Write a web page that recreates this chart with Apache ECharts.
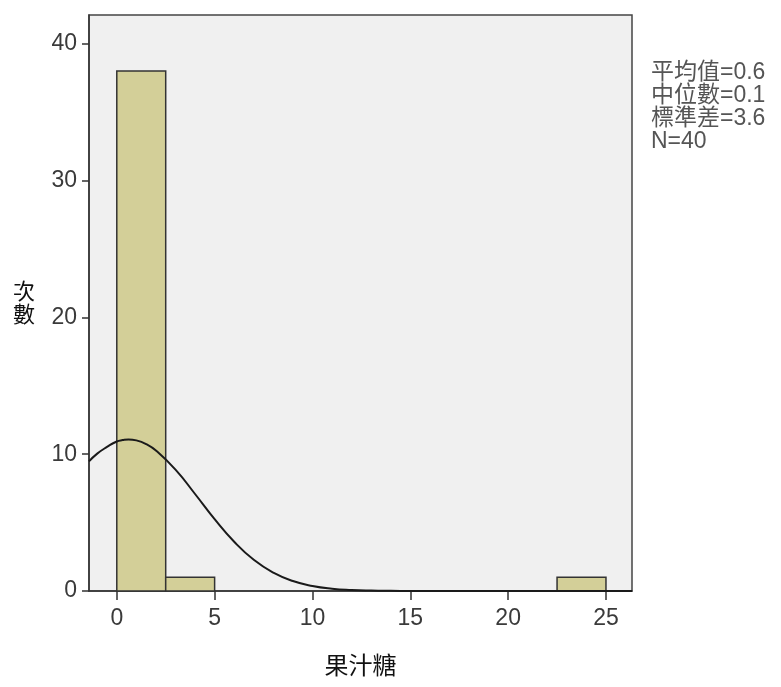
<!DOCTYPE html>
<html>
<head>
<meta charset="utf-8">
<script src="https://cdn.jsdelivr.net/npm/echarts@6/dist/echarts.min.js"></script>
<style>html,body{margin:0;padding:0;background:#fff;}#c{width:781px;height:687px;}</style>
</head>
<body>
<div id="c"></div>
<script>
// Histogram bins: [start, end, count]
var binStarts = [0, 2.5, 22.5];
var binEnds = [2.5, 5, 25];
var binCounts = [38, 1, 1];
// Normal curve: x and frequency values
var curveX = [-1.42, -1, -0.5, 0, 0.3, 0.6, 1, 1.5, 2, 3, 4, 5, 6, 7, 8, 9, 10, 11, 12, 13, 14, 15, 17, 20, 23, 26.33];
var curveY = [9.47, 10.04, 10.53, 10.93, 11.03, 11.08, 11.01, 10.74, 10.27, 8.87, 7.09, 5.25, 3.60, 2.28, 1.34, 0.73, 0.37, 0.17, 0.074, 0.029, 0.011, 0.004, 0.0004, 0, 0, 0];
var xTicks = [0, 5, 10, 15, 20, 25];
var yTicks = [0, 10, 20, 30, 40];
var statLines = ['平均值=0.6', '中位數=0.1', '標準差=3.6', 'N=40'];
var xName = '果汁糖';
var yName = '次數';

var chart = echarts.init(document.getElementById('c'), null, {renderer: 'canvas'});
var barData = binStarts.map(function (s, i) { return [s, binEnds[i], binCounts[i]]; });
var lineData = curveX.map(function (x, i) { return [x, curveY[i]]; });
var tickFont = {fontFamily: 'Liberation Sans, Arial, sans-serif', fontSize: 23, color: '#3a3a3a'};

chart.setOption({
  animation: false,
  backgroundColor: '#ffffff',
  grid: {left: 89, top: 15, right: 149, bottom: 96, show: true, backgroundColor: '#f0f0f0', borderColor: '#444', borderWidth: 1.5},
  xAxis: {
    type: 'value', min: -1.42, max: 26.33,
    name: xName, nameLocation: 'middle', nameGap: 62,
    nameTextStyle: {fontFamily: 'Noto Sans CJK TC', fontSize: 24, color: '#111'},
    axisLine: {show: true, onZero: false, lineStyle: {color: '#333', width: 1.5}},
    axisTick: {show: true, inside: false, length: 9, customValues: xTicks, lineStyle: {color: '#333', width: 1.5}},
    axisLabel: Object.assign({show: true, customValues: xTicks, margin: 16}, tickFont),
    splitLine: {show: false}
  },
  yAxis: {
    type: 'value', min: 0, max: 42.1,
    axisLine: {show: true, onZero: false, lineStyle: {color: '#333', width: 1.5}},
    axisTick: {show: true, inside: false, length: 7, customValues: yTicks, lineStyle: {color: '#333', width: 1.5}},
    axisLabel: Object.assign({customValues: yTicks, margin: 12}, tickFont),
    splitLine: {show: false}
  },
  graphic: [
    {type: 'text', left: 13, top: 279, style: {text: yName.split('').join('\n'), font: '22px "Noto Sans CJK TC"', fill: '#111', lineHeight: 23}},
    {type: 'text', left: 651, top: 61, style: {text: statLines.join('\n'), font: '23px "Liberation Sans", "Noto Sans CJK TC"', fill: '#555', lineHeight: 23}}
  ],
  series: [
    {
      type: 'custom',
      data: barData,
      encode: {x: [0, 1], y: 2},
      renderItem: function (params, api) {
        var p0 = api.coord([api.value(0), api.value(2)]);
        var p1 = api.coord([api.value(1), 0]);
        return {
          type: 'rect',
          shape: {x: p0[0], y: p0[1], width: p1[0] - p0[0], height: p1[1] - p0[1]},
          style: {fill: '#d3cf98', stroke: '#333', lineWidth: 1.5}
        };
      },
      z: 2
    },
    {
      type: 'line',
      data: lineData,
      smooth: true,
      showSymbol: false,
      symbol: 'none',
      lineStyle: {color: '#1a1a1a', width: 2},
      z: 3
    }
  ]
});
</script>
</body>
</html>
